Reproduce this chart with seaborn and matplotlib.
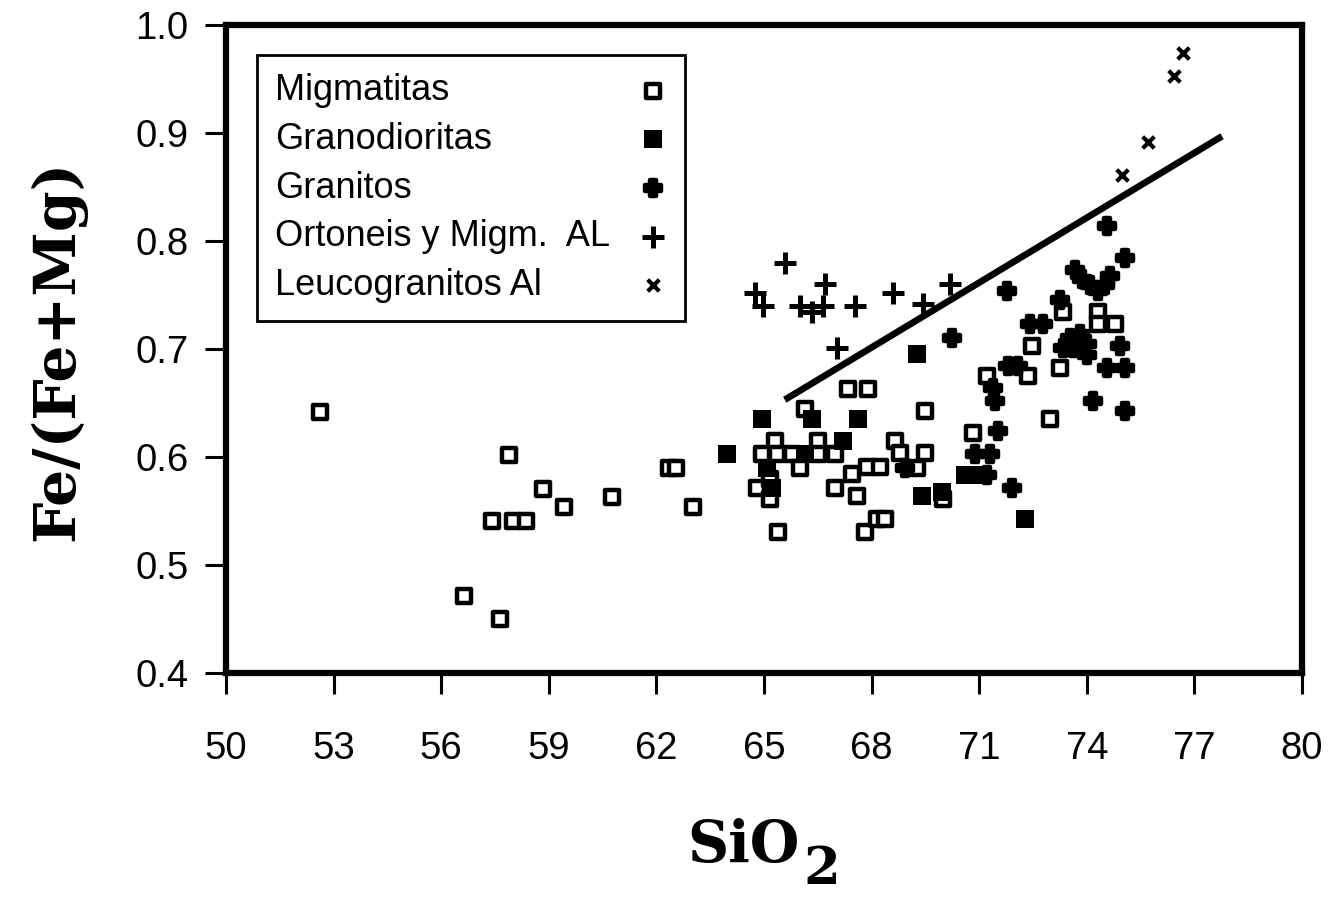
import matplotlib
matplotlib.use("Agg")
import matplotlib.pyplot as plt
import seaborn as sns
import pandas as pd

# ---- data ----
mig_x = [52.62, 56.63, 57.64, 57.42, 58.00, 58.36, 57.89, 58.84, 59.42, 60.76, 62.35, 62.55, 63.02,
         67.34, 67.90, 66.14, 65.31, 66.50, 68.65, 64.94, 65.36, 65.78, 66.50, 66.98, 66.00, 67.45,
         67.87, 68.23, 64.80, 65.17, 65.17, 66.98, 67.59, 65.39, 67.81, 68.15, 68.37,
         69.49, 68.79, 69.49, 69.26, 70.83, 69.99, 72.97, 72.47, 71.22, 72.36, 73.25, 73.33, 74.31,
         74.31, 74.78]
mig_y = [0.642, 0.471, 0.450, 0.541, 0.541, 0.541, 0.602, 0.570, 0.554, 0.563, 0.590, 0.590, 0.554,
         0.663, 0.663, 0.644, 0.615, 0.615, 0.615, 0.603, 0.603, 0.603, 0.603, 0.603, 0.590, 0.584,
         0.591, 0.591, 0.571, 0.580, 0.561, 0.571, 0.564, 0.531, 0.531, 0.543, 0.543,
         0.643, 0.604, 0.604, 0.590, 0.622, 0.561, 0.635, 0.703, 0.675, 0.675, 0.682, 0.734, 0.734,
         0.723, 0.723]

grd_x = [63.97, 64.94, 66.34, 67.62, 67.20, 66.14, 65.08, 65.22, 69.26, 69.40, 69.96, 70.60, 70.90, 72.27]
grd_y = [0.603, 0.635, 0.635, 0.635, 0.615, 0.603, 0.590, 0.571, 0.695, 0.564, 0.568, 0.583, 0.583, 0.543]

gra_x = [68.93, 71.52, 70.88, 71.30, 71.22, 71.91, 71.44, 71.77, 70.24, 71.38, 71.80, 72.08, 72.41,
         72.78, 73.25, 74.56, 75.06, 73.67, 73.86, 74.09, 74.31, 74.50, 74.64, 73.53, 73.81, 74.00,
         73.33, 73.61, 74.00, 74.92, 74.56, 75.06, 74.17, 75.06]
gra_y = [0.590, 0.624, 0.603, 0.603, 0.583, 0.571, 0.652, 0.754, 0.710, 0.664, 0.684, 0.684, 0.723,
         0.723, 0.745, 0.814, 0.784, 0.773, 0.765, 0.759, 0.754, 0.759, 0.768, 0.710, 0.714, 0.705,
         0.701, 0.701, 0.694, 0.703, 0.682, 0.682, 0.652, 0.643]

ort_x = [65.58, 64.75, 64.97, 66.00, 66.34, 66.70, 66.64, 67.54, 68.60, 69.43, 70.18, 67.03]
ort_y = [0.780, 0.752, 0.740, 0.740, 0.734, 0.760, 0.740, 0.740, 0.752, 0.742, 0.760, 0.701]

leu_x = [76.68, 76.43, 75.70, 74.98]
leu_y = [0.974, 0.953, 0.892, 0.861]

line_x = [65.58, 77.77]
line_y = [0.653, 0.897]

x_ticks = [50, 53, 56, 59, 62, 65, 68, 71, 74, 77, 80]
y_ticks = [0.4, 0.5, 0.6, 0.7, 0.8, 0.9, 1.0]
y_ticklabels = ["0.4", "0.5", "0.6", "0.7", "0.8", "0.9", "1.0"]

labels = ["Migmatitas", "Granodioritas", "Granitos", "Ortoneis y Migm.  AL", "Leucogranitos Al"]

# ---- figure ----
sns.set_style("ticks")
plt.rcParams["font.family"] = ["Liberation Sans", "DejaVu Sans"]
for k in ["text.color", "axes.labelcolor", "xtick.color", "ytick.color", "axes.edgecolor"]:
    plt.rcParams[k] = "black"

fig = plt.figure(figsize=(13.32, 8.97), dpi=100)
ax = fig.add_axes([226 / 1332, 1 - 673 / 897, (1302 - 226) / 1332, (673 - 25) / 897])

groups = [
    (mig_x, mig_y, dict(marker="s", s=105, facecolor="white", edgecolor="black", linewidth=3.2)),
    (grd_x, grd_y, dict(marker="s", s=165, color="black", linewidth=0)),
    (gra_x, gra_y, dict(marker="P", s=135, color="black", edgecolor="black", linewidth=3.2)),
    (ort_x, ort_y, dict(marker="+", s=270, color="black", linewidth=3.6)),
    (leu_x, leu_y, dict(marker="x", s=70, color="black", linewidth=3.0)),
]
for (gx, gy, kw), lab in zip(groups, labels):
    df = pd.DataFrame({"x": gx, "y": gy})
    sns.scatterplot(data=df, x="x", y="y", ax=ax, label=lab, zorder=3, **kw)

ax.plot(line_x, line_y, color="black", linewidth=4.8, solid_capstyle="butt", zorder=2)

ax.set_xlim(50, 80)
ax.set_ylim(0.4, 1.0)
ax.set_xticks(x_ticks)
ax.set_xticklabels([str(t) for t in x_ticks])
ax.set_yticks(y_ticks)
ax.set_yticklabels(y_ticklabels)
ax.tick_params(axis="both", direction="out", length=15, width=2.2, labelsize=27.5, color="black")
ax.tick_params(axis="x", pad=27)
ax.tick_params(axis="y", pad=12)
for sp in ax.spines.values():
    sp.set_visible(True)
    sp.set_linewidth(4.5)
    sp.set_color("black")

ax.set_xlabel("")
ax.set_ylabel("")
fig.text(58 / 1332, 1 - 350 / 897, "Fe/(Fe+Mg)", rotation=90, ha="center", va="center",
         fontsize=42, fontweight="bold", family="DejaVu Serif")
fig.text(800 / 1332, 1 - 862 / 897, "SiO", ha="right", va="baseline",
         fontsize=41, fontweight="bold", family="DejaVu Serif")
fig.text(803 / 1332, 1 - 884 / 897, "2", ha="left", va="baseline",
         fontsize=38, fontweight="bold", family="DejaVu Serif")

leg = ax.legend(loc="upper left", bbox_to_anchor=((257 - 226) / 1076, (673 - 55) / 648),
                borderaxespad=0, markerfirst=False, fontsize=26, frameon=True, fancybox=False,
                framealpha=1, edgecolor="black", labelspacing=0.38, handletextpad=0.5,
                borderpad=0.5, handlelength=0.8)
leg.get_frame().set_linewidth(2)
# left-align the labels while keeping the markers in a right-hand column
for col in leg._legend_handle_box.get_children():
    for row in col.get_children():
        row.mode = "expand"
        row.width = 392

fig.savefig("out.png", dpi=100, facecolor="white")
